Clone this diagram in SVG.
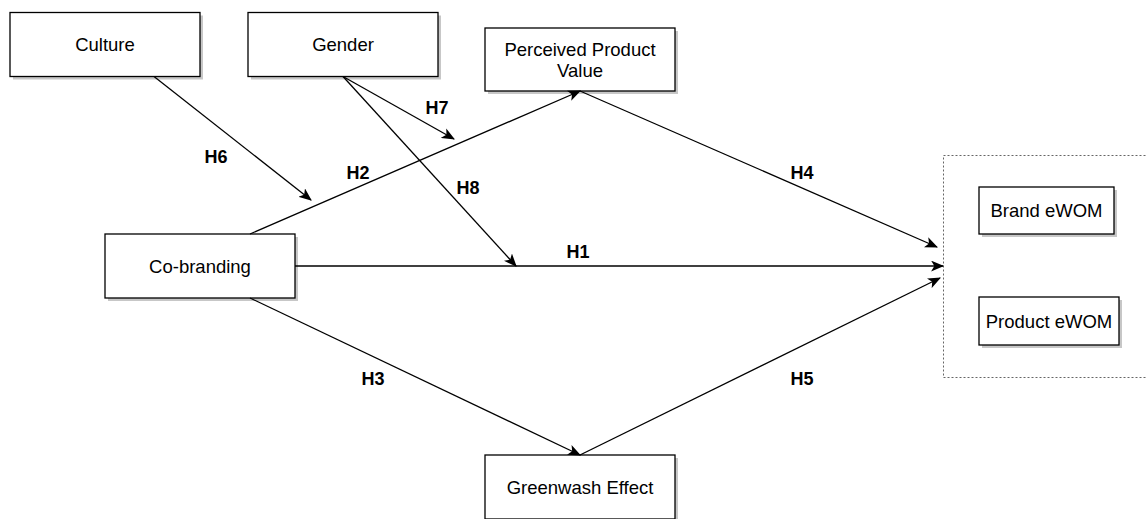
<svg xmlns="http://www.w3.org/2000/svg" width="1146" height="519" viewBox="0 0 1146 519">
<style>
.box{fill:#fff;stroke:#000;stroke-width:1.3}
.sh{fill:#000;opacity:0.22}
.t{font-family:"Liberation Sans",Arial,sans-serif;font-size:18.5px;fill:#000;text-anchor:middle}
.lbl{font-family:"Liberation Sans",Arial,sans-serif;font-size:18px;font-weight:bold;fill:#000;text-anchor:middle}
.c{fill:none;stroke:#000;stroke-width:1.3;marker-end:url(#arr)}
</style>
<defs>
<marker id="arr" viewBox="0 0 12 10" refX="11" refY="5" markerWidth="13" markerHeight="11" markerUnits="userSpaceOnUse" orient="auto">
<path d="M0,0 L12,5 L0,10 L3,5 Z" fill="#000"/>
</marker>
</defs>
<rect width="1146" height="519" fill="#fff"/>
<g id="group-ewom">
<rect x="943.5" y="155.5" width="210" height="222" fill="none" stroke="#666" stroke-width="1" stroke-dasharray="2 2"/>
</g>
<g id="culture">
<rect class="sh" x="13" y="15.5" width="190" height="64"/>
<rect class="box" x="10" y="12.5" width="190" height="64"/>
<text class="t" x="105" y="51">Culture</text>
</g>
<g id="gender">
<rect class="sh" x="251" y="15.5" width="190" height="64"/>
<rect class="box" x="248" y="12.5" width="190" height="64"/>
<text class="t" x="343" y="51">Gender</text>
</g>
<g id="perceived">
<rect class="sh" x="488" y="31" width="190" height="63"/>
<rect class="box" x="485" y="28" width="190" height="63"/>
<text class="t" x="580" y="56">Perceived Product</text>
<text class="t" x="580" y="77">Value</text>
</g>
<g id="cobranding">
<rect class="sh" x="108" y="237" width="190" height="64"/>
<rect class="box" x="105" y="234" width="190" height="64"/>
<text class="t" x="200" y="273">Co-branding</text>
</g>
<g id="greenwash">
<rect class="sh" x="488" y="458" width="190" height="64"/>
<rect class="box" x="485" y="455" width="190" height="64"/>
<text class="t" x="580" y="494">Greenwash Effect</text>
</g>
<g id="brand-ewom">
<rect class="sh" x="982" y="190" width="135" height="47"/>
<rect class="box" x="979" y="187" width="135" height="47"/>
<text class="t" x="1046.5" y="217">Brand eWOM</text>
</g>
<g id="product-ewom">
<rect class="sh" x="982" y="300" width="140" height="48"/>
<rect class="box" x="979" y="297" width="140" height="48"/>
<text class="t" x="1049" y="328">Product eWOM</text>
</g>
<g id="connectors">
<line class="c" x1="154" y1="76.5" x2="311" y2="200"/>
<line class="c" x1="343" y1="76.5" x2="454" y2="139"/>
<line class="c" x1="343" y1="76.5" x2="516" y2="266"/>
<line class="c" x1="250" y1="234" x2="580" y2="91"/>
<line class="c" x1="295" y1="266" x2="943" y2="266"/>
<line class="c" x1="250" y1="298" x2="580" y2="455"/>
<line class="c" x1="580" y1="91" x2="937" y2="247"/>
<line class="c" x1="580" y1="455" x2="940" y2="278"/>
<text class="lbl" x="216" y="163">H6</text>
<text class="lbl" x="437" y="114">H7</text>
<text class="lbl" x="468" y="194">H8</text>
<text class="lbl" x="358" y="179">H2</text>
<text class="lbl" x="578" y="258">H1</text>
<text class="lbl" x="373" y="385">H3</text>
<text class="lbl" x="802" y="179">H4</text>
<text class="lbl" x="802" y="385">H5</text>
</g>
</svg>
